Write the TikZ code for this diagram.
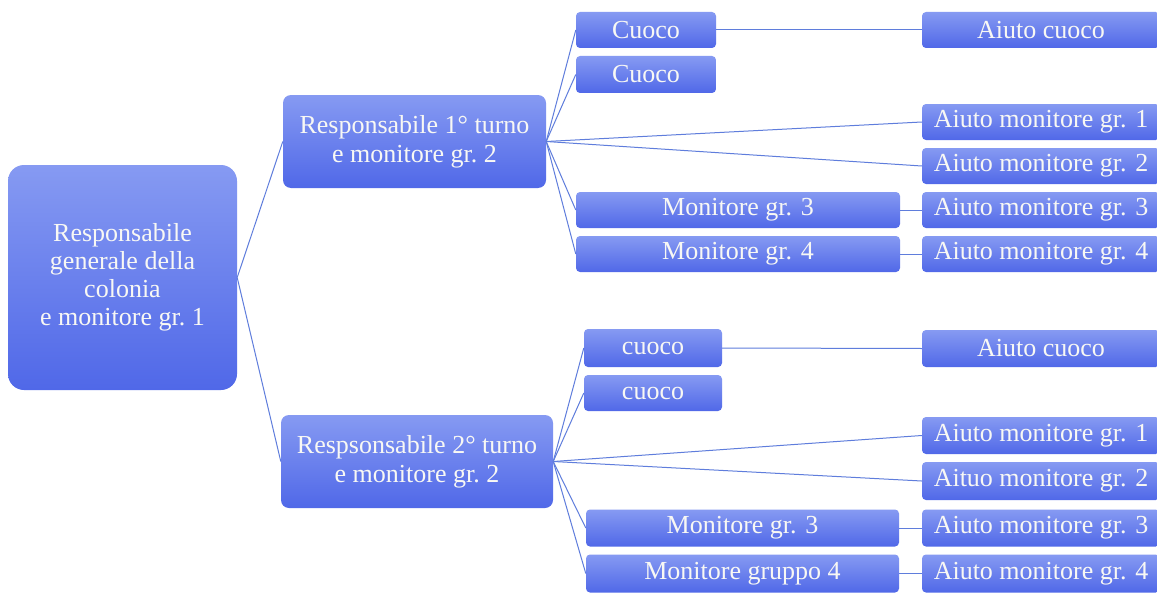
\documentclass[tikz,border=0pt]{standalone}
\usepackage{fontspec}
\setmainfont{Liberation Serif}
\definecolor{boxtop}{RGB}{134,154,242}
\definecolor{boxbot}{RGB}{80,104,232}
\definecolor{linec}{RGB}{95,125,220}
\definecolor{txt}{RGB}{248,248,244}
\tikzset{
  box/.style={shade, top color=boxtop, bottom color=boxbot, rounded corners=4pt,
    text=txt, font=\fontsize{26}{29}\selectfont, inner sep=0pt, align=center},
  bigbox/.style={box, rounded corners=8pt},
  rootbox/.style={box, rounded corners=16pt, font=\fontsize{26}{28}\selectfont},
  conn/.style={draw=linec, line width=1pt}
}
\begin{document}
\begin{tikzpicture}[x=1pt,y=-1pt]
\clip (0,0) rectangle (1157,594);
\fill[white] (0,0) rectangle (1157,594);
% level 0 and 1
\node[rootbox, minimum width=229pt, minimum height=225pt] (root) at (122.5,277.5) {Responsabile\\generale della\\colonia\\e monitore gr.~1};
\node[bigbox, minimum width=263pt, minimum height=93pt] (r1) at (414.5,141.5) {Responsabile 1° turno\\e monitore gr.~2};
\node[bigbox, minimum width=272pt, minimum height=93pt] (r2) at (417,461.5) {Respsonsabile 2° turno\\e monitore gr.~2};
% top group
\node[box, minimum width=140pt, minimum height=36pt] (c1a) at (646,30) {Cuoco};
\node[box, minimum width=140pt, minimum height=37pt] (c2a) at (646,74.5) {Cuoco};
\node[box, minimum width=238pt, minimum height=36pt] (aca) at (1041,30) {Aiuto cuoco};
\node[box, minimum width=238pt, minimum height=36pt] (a1a) at (1041,122) {Aiuto monitore gr. 1};
\node[box, minimum width=238pt, minimum height=36pt] (a2a) at (1041,166) {Aiuto monitore gr. 2};
\node[box, minimum width=324pt, minimum height=36pt] (m3a) at (738,210) {Monitore gr. 3};
\node[box, minimum width=238pt, minimum height=36pt] (a3a) at (1041,210) {Aiuto monitore gr. 3};
\node[box, minimum width=324pt, minimum height=36pt] (m4a) at (738,254) {Monitore gr. 4};
\node[box, minimum width=238pt, minimum height=36pt] (a4a) at (1041,254) {Aiuto monitore gr. 4};
% bottom group
\node[box, minimum width=138pt, minimum height=38pt] (c1b) at (653,348) {cuoco};
\node[box, minimum width=138pt, minimum height=36pt] (c2b) at (653,393) {cuoco};
\node[box, minimum width=238pt, minimum height=37pt] (acb) at (1041,348.5) {Aiuto cuoco};
\node[box, minimum width=238pt, minimum height=37pt] (a1b) at (1041,435.5) {Aiuto monitore gr. 1};
\node[box, minimum width=238pt, minimum height=38pt] (a2b) at (1041,481) {Aituo monitore gr. 2};
\node[box, minimum width=313pt, minimum height=37pt] (m3b) at (742.5,528) {Monitore gr. 3};
\node[box, minimum width=238pt, minimum height=37pt] (a3b) at (1041,528) {Aiuto monitore gr. 3};
\node[box, minimum width=313pt, minimum height=38pt] (m4b) at (742.5,573.5) {Monitore gruppo 4};
\node[box, minimum width=238pt, minimum height=38pt] (a4b) at (1041,573.5) {Aiuto monitore gr. 4};
% connectors
\draw[conn] (root.east) -- (r1.west);
\draw[conn] (root.east) -- (r2.west);
\foreach \n in {c1a,c2a,a1a,a2a,m3a,m4a} \draw[conn] (r1.east) -- (\n.west);
\foreach \n in {c1b,c2b,a1b,a2b,m3b,m4b} \draw[conn] (r2.east) -- (\n.west);
\draw[conn] (c1a.east) -- (aca.west);
\draw[conn] (m3a.east) -- (a3a.west);
\draw[conn] (m4a.east) -- (a4a.west);
\draw[conn] (c1b.east) -- (acb.west);
\draw[conn] (m3b.east) -- (a3b.west);
\draw[conn] (m4b.east) -- (a4b.west);
\end{tikzpicture}
\end{document}
